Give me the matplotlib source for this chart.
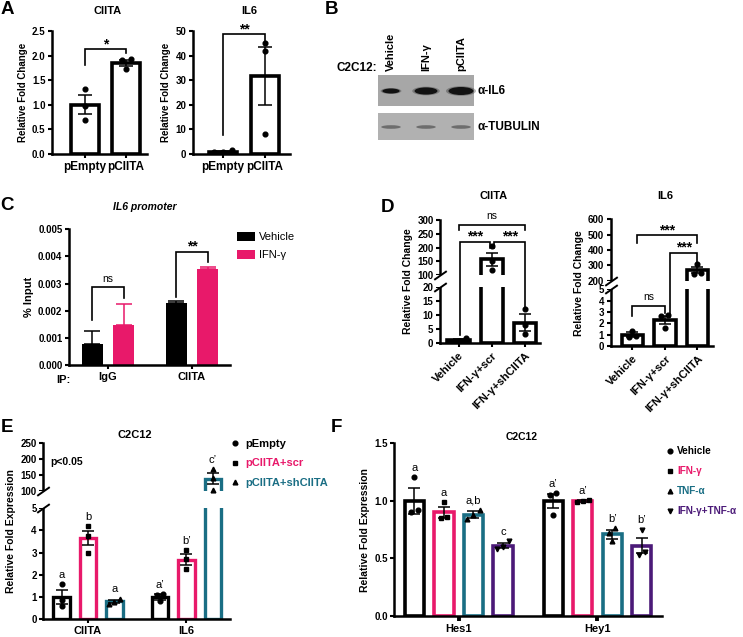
import numpy as np
import matplotlib
matplotlib.use("Agg")
import matplotlib.pyplot as plt
from matplotlib.patches import Rectangle, Ellipse, Patch
from matplotlib.lines import Line2D
from matplotlib.ticker import NullLocator

plt.rcParams.update({
    'font.family': ['Liberation Sans', 'DejaVu Sans'],
    'font.weight': 'bold',
    'axes.linewidth': 1.8,
    'xtick.major.width': 1.5, 'ytick.major.width': 1.5,
    'xtick.major.size': 3.2, 'ytick.major.size': 3.2,
    'xtick.major.pad': 2, 'ytick.major.pad': 1.5,
    'xtick.labelsize': 7, 'ytick.labelsize': 7,
    'axes.labelweight': 'bold', 'axes.labelsize': 7.5,
})

PINK = '#e8196a'
TEAL = '#1a6e84'
PURPLE = '#4b1a78'

# ---------------- data ----------------
# Panel A
a_groups = ['pEmpty', 'pCIITA']
a_ciita_mean = [1.0, 1.85]
a_ciita_sem = [0.19, 0.07]
a_ciita_pts = [[1.33, 0.97, 0.70], [1.93, 1.92, 1.72]]
a_il6_mean = [1.0, 31.7]
a_il6_sem = [0.15, 11.9]
a_il6_pts = [[1.45, 0.85, 0.70], [45.0, 42.0, 8.0]]

# Panel B (western blot, relative band intensities)
b_lanes = ['Vehicle', 'IFN-γ', 'pCIITA']
b_il6_signal = [0.45, 0.85, 1.0]
b_tubulin_signal = [0.6, 0.6, 0.6]

# Panel C
c_groups = ['IgG', 'CIITA']
c_series = ['Vehicle', 'IFN-γ']
c_vehicle = [0.00077, 0.00230]
c_vehicle_err = [0.00047, 0.00005]
c_ifng = [0.00149, 0.00355]
c_ifng_err = [0.00076, 0.00006]

# Panel D
d_groups = ['Vehicle', 'IFN-γ+scr', 'IFN-γ+shCIITA']
d_ciita_mean = [1.0, 158.0, 7.3]
d_ciita_sem = [0.35, 24.0, 3.0]
d_ciita_pts = [[1.9, 0.7, 0.5], [205.0, 150.0, 119.0], [12.3, 6.5, 3.1]]
d_il6_mean = [1.0, 2.3, 268.0]
d_il6_sem = [0.2, 0.38, 20.0]
d_il6_pts = [[1.35, 0.85, 0.8], [2.72, 2.65, 1.62], [311.0, 250.0, 245.0]]

# Panel E
e_groups = ['CIITA', 'IL6']
e_series = ['pEmpty', 'pCIITA+scr', 'pCIITA+shCIITA']
e_mean = [[1.0, 1.0], [3.65, 2.68], [0.80, 137.0]]
e_sem = [[0.32, 0.12], [0.33, 0.25], [0.08, 17.0]]
e_pts = [[[1.58, 0.85, 0.57], [1.12, 1.10, 0.80]],
         [[4.2, 3.75, 3.0], [3.1, 2.72, 2.25]],
         [[0.92, 0.78, 0.70], [167.0, 141.0, 103.0]]]
e_letters = [['a', 'a’'], ['b', 'b’'], ['a', 'c’']]

# Panel F
f_groups = ['Hes1', 'Hey1']
f_series = ['Vehicle', 'IFN-γ', 'TNF-α', 'IFN-γ+TNF-α']
f_mean = [[1.0, 1.0], [0.90, 1.0], [0.88, 0.71], [0.61, 0.61]]
f_sem = [[0.11, 0.06], [0.045, 0.01], [0.03, 0.04], [0.02, 0.065]]
f_pts = [[[1.21, 0.92, 0.90], [1.07, 1.05, 0.88]],
         [[0.99, 0.86, 0.85], [1.01, 1.00, 0.99]],
         [[0.92, 0.88, 0.84], [0.76, 0.72, 0.65]],
         [[0.65, 0.60, 0.58], [0.75, 0.56, 0.53]]]
f_letters = [['a', 'a’'], ['a', 'a’'], ['a,b', 'b’'], ['c', 'b’']]

# ---------------- helpers ----------------
W, H = 743, 637
fig = plt.figure(figsize=(W / 100, H / 100), dpi=100)


def rect(x0, y0, x1, y1):
    return [x0 / W, 1 - y1 / H, (x1 - x0) / W, (y1 - y0) / H]


def clean(ax, xfs):
    ax.spines['top'].set_visible(False)
    ax.spines['right'].set_visible(False)
    for lab in ax.get_yticklabels():
        lab.set_fontweight('bold')
    for lab in ax.get_xticklabels():
        lab.set_fontweight('bold')
        lab.set_fontsize(xfs)


def ident(y):
    return np.asarray(y, float)


def make_break(lo, hi, gap, k):
    def fwd(y):
        y = np.asarray(y, float)
        return np.where(y <= lo, y, np.where(y < hi, lo + (y - lo) / (hi - lo) * gap,
                                             lo + gap + (y - hi) * k))

    def inv(u):
        u = np.asarray(u, float)
        return np.where(u <= lo, u, np.where(u < lo + gap, lo + (u - lo) / gap * (hi - lo),
                                             hi + (u - lo - gap) / k))
    return fwd, inv


def spread(vals, fwd, ymax, width, thr=0.035):
    vals = np.asarray(vals, float)
    u = np.asarray(fwd(vals)) / float(fwd(ymax))
    order = np.argsort(u)
    offs = np.zeros(len(vals))
    clusters, cur = [], [order[0]]
    for i in order[1:]:
        if u[i] - u[cur[-1]] < thr:
            cur.append(i)
        else:
            clusters.append(cur)
            cur = [i]
    clusters.append(cur)
    for c in clusters:
        n = len(c)
        if n > 1:
            for kk, i in enumerate(c):
                offs[i] = (kk - (n - 1) / 2) * width * 0.32
    return offs


def draw_bars(ax, xs, means, sems, pts, edge, marker, width, lw, fwd, ymax, capsize):
    ax.bar(xs, means, width, facecolor='white', edgecolor=edge, linewidth=lw, zorder=2)
    ax.errorbar(xs, means, yerr=sems, fmt='none', ecolor='k', elinewidth=1.1,
                capsize=capsize, capthick=1.1, zorder=3)
    for x, p in zip(xs, pts):
        offs = spread(p, fwd, ymax, width)
        ax.plot(x + offs, p, ls='none', marker=marker, color='k', ms=3.4, zorder=4)


def bracket(ax, x1, x2, y, yl, yr, text, star=True):
    ax.plot([x1, x1, x2, x2], [yl, y, y, yr], color='k', lw=1.2, zorder=6,
            solid_joinstyle='miter', clip_on=False)
    if star:
        ax.annotate(text, ((x1 + x2) / 2, y), xytext=(0, -1.5), textcoords='offset points',
                    ha='center', va='bottom', fontsize=10, fontweight='bold', zorder=6)
    else:
        ax.annotate(text, ((x1 + x2) / 2, y), xytext=(0, 2.5), textcoords='offset points',
                    ha='center', va='bottom', fontsize=7.5, fontweight='normal', zorder=6)


def gap_cover(ax, lo, hi):
    ax.axhspan(lo, hi, xmin=-0.04, xmax=1.0, facecolor='white', edgecolor='none',
               zorder=2.6, clip_on=False)
    ax.plot([0, 0], [lo, hi], transform=ax.get_yaxis_transform(), ls='none',
            marker=[(-1, -0.7), (1, 0.7)], ms=9, mew=1.4, color='k', clip_on=False, zorder=5)


# ---------------- Panel A ----------------
for pos, means, sems, pts, title, ymax, yt, tx, xl, br in [
    ((52, 31, 147, 154), a_ciita_mean, a_ciita_sem, a_ciita_pts, 'CIITA', 2.5,
     [0, 0.5, 1.0, 1.5, 2.0, 2.5], 0.58, (-0.8, 1.51), (2.13, 1.81, 2.05, '*')),
    ((193, 31, 290, 154), a_il6_mean, a_il6_sem, a_il6_pts, 'IL6', 50,
     [0, 10, 20, 30, 40, 50], 0.58, (-0.72, 1.6), (48.7, 7.7, 45.6, '**'))]:
    ax = fig.add_axes(rect(*pos))
    xs = np.arange(len(a_groups))
    draw_bars(ax, xs, means, sems, pts, 'k', 'o', 0.68, 2.6, ident, ymax, 5)
    ax.set_xlim(*xl)
    ax.set_ylim(0, ymax)
    ax.set_yticks(yt)
    if title == 'CIITA':
        ax.set_yticklabels([f'{v:.1f}' for v in yt])
    ax.set_xticks(xs)
    ax.set_xticklabels(a_groups)
    ax.set_ylabel('Relative Fold Change', fontsize=7, labelpad=3)
    ax.text(tx, 1.16, title, transform=ax.transAxes, ha='center', va='center',
            fontsize=8, fontweight='bold')
    bracket(ax, 0, 1, br[0], br[1], br[2], br[3])
    clean(ax, 8.5)

# ---------------- Panel B (blot) ----------------
axb = fig.add_axes([0, 0, 1, 1], zorder=-1)
axb.set_xlim(0, W)
axb.set_ylim(H, 0)
axb.axis('off')
axb.add_patch(Rectangle((378, 74.5), 96, 31, facecolor='#a7a7a7', edgecolor='none'))
axb.add_patch(Rectangle((378, 112.5), 96, 27.5, facecolor='#b1b1b1', edgecolor='none'))
lane_x = [391 + 35 * i for i in range(len(b_lanes))]
for x, s in zip(lane_x, b_il6_signal):
    for f, a in [(1.2, 0.3), (1.0, 1.0)]:
        axb.add_patch(Ellipse((x, 91), (11 + 14 * s) * f, (2.5 + 5.5 * s) * f,
                              facecolor='#121212', edgecolor='none', alpha=a))
for x, s in zip(lane_x, b_tubulin_signal):
    axb.add_patch(Ellipse((x, 127), 10 + 16 * s, 1.8 + 3 * s, facecolor='#666666',
                          edgecolor='none', alpha=0.9))
for x, lab in zip(lane_x, b_lanes):
    fig.text(x / W, 1 - 71 / H, lab, rotation=90, ha='center', va='bottom',
             fontsize=8, fontweight='bold')
fig.text(377 / W, 1 - 68 / H, 'C2C12:', ha='right', va='center', fontsize=8.5, fontweight='bold')
fig.text(477 / W, 1 - 91 / H, 'α-IL6', ha='left', va='center', fontsize=8.5, fontweight='bold')
fig.text(477 / W, 1 - 127 / H, 'α-TUBULIN', ha='left', va='center', fontsize=8.5, fontweight='bold')

# ---------------- Panel C ----------------
axc = fig.add_axes(rect(69, 229.3, 230, 365))
gx = np.arange(len(c_groups))
off = 0.185
w = 0.25
axc.bar(gx - off, c_vehicle, w, color='k', zorder=2, label=c_series[0])
axc.bar(gx + off, c_ifng, w, color=PINK, zorder=2, label=c_series[1])
axc.errorbar(gx - off, c_vehicle, yerr=[np.zeros(2), c_vehicle_err], fmt='none', ecolor='k',
             elinewidth=1.1, capsize=5.5, capthick=1.1, zorder=3)
axc.errorbar(gx + off, c_ifng, yerr=[np.zeros(2), c_ifng_err], fmt='none', ecolor=PINK,
             elinewidth=1.1, capsize=5.5, capthick=1.1, zorder=3)
axc.set_xlim(-0.464, 1.452)
axc.set_ylim(0, 0.005)
axc.set_yticks([0, 0.001, 0.002, 0.003, 0.004, 0.005])
axc.set_yticklabels(['0.000', '0.001', '0.002', '0.003', '0.004', '0.005'])
axc.set_xticks(gx)
axc.set_xticklabels(c_groups)
axc.set_ylabel('% Input', fontsize=8, labelpad=3)
axc.text(0.472, 1.166, 'IL6 promoter', transform=axc.transAxes, ha='center', va='center',
         fontsize=7.5, fontweight='bold', style='italic')
bracket(axc, 0 - off, 0 + off, 0.00286, 0.00166, 0.00246, 'ns', star=False)
bracket(axc, 1 - off, 1 + off, 0.00418, 0.00252, 0.00380, '**')
fig.text(63 / W, 1 - 380 / H, 'IP:', ha='center', va='center', fontsize=8, fontweight='bold')
axc.legend(handles=[Patch(facecolor='k'), Patch(facecolor=PINK)], labels=c_series,
           loc='upper left', bbox_to_anchor=(237 / W, 1 - 232 / H), bbox_transform=fig.transFigure,
           frameon=False, borderpad=0, borderaxespad=0, handlelength=1.65, handleheight=0.9,
           handletextpad=0.3, labelspacing=0.65, prop={'size': 8, 'weight': 'normal'})
clean(axc, 8)

# ---------------- Panel D ----------------
d_specs = [
    ((440, 220, 540, 343), d_ciita_mean, d_ciita_sem, d_ciita_pts, 'CIITA',
     make_break(20, 100, 4.44, 0.0993), (20, 100), 300,
     [0, 5, 10, 15, 20, 100, 150, 200, 250, 300], (-0.56, 2.45), 0.533, 1.195),
    ((610.7, 219.3, 713, 346), d_il6_mean, d_il6_sem, d_il6_pts, 'IL6',
     make_break(5, 200, 0.76, 0.01353), (5, 200), 600,
     [0, 1, 2, 3, 4, 5, 200, 300, 400, 500, 600], (-0.67, 2.48), 0.537, 1.184),
]
d_axes = []
for pos, means, sems, pts, title, (fwd, inv), (lo, hi), ymax, yt, xl, tx, ty in d_specs:
    ax = fig.add_axes(rect(*pos))
    ax.set_yscale('function', functions=(fwd, inv))
    ax.set_ylim(0, ymax)
    xs = np.arange(len(d_groups))
    draw_bars(ax, xs, means, sems, pts, 'k', 'o', 0.67, 2.6, fwd, ymax, 4.5)
    ax.set_xlim(*xl)
    ax.set_yticks(yt)
    ax.set_yticklabels([str(v) for v in yt])
    ax.yaxis.set_minor_locator(NullLocator())
    ax.set_xticks(xs)
    ax.set_xticklabels(d_groups, rotation=45, ha='right', rotation_mode='anchor')
    ax.set_ylabel('Relative Fold Change', fontsize=7.5, labelpad=3)
    ax.text(tx, ty, title, transform=ax.transAxes, ha='center', va='center',
            fontsize=8, fontweight='bold')
    gap_cover(ax, lo, hi)
    clean(ax, 8)
    d_axes.append(ax)

axd1, axd2 = d_axes
bracket(axd1, 0, 2, 282, 262, 262, 'ns', star=False)
bracket(axd1, 0.05, 0.93, 221, 2.8, 200, '***')
bracket(axd1, 1.07, 2, 221, 200, 13, '***')
bracket(axd2, 0.15, 2, 498, 444, 444, '***')
bracket(axd2, 1.17, 2, 382, 2.6, 324, '***')
bracket(axd2, 0, 1.0, 3.53, 2.65, 2.94, 'ns', star=False)

# ---------------- Panel E ----------------
axe = fig.add_axes(rect(43.3, 442.7, 230, 619))
efwd, einv = make_break(5, 100, 0.795, 0.01445)
axe.set_yscale('function', functions=(efwd, einv))
axe.set_ylim(0, 250)
e_colors = ['k', PINK, TEAL]
e_markers = ['o', 's', '^']
eg = np.arange(len(e_groups))
eoff = 0.269
for i in range(len(e_series)):
    xs = eg + (i - 1) * eoff
    draw_bars(axe, xs, e_mean[i], e_sem[i], e_pts[i], e_colors[i], e_markers[i], 0.17, 2.4,
              efwd, 250, 4)
    for x, m, s, p, lt in zip(xs, e_mean[i], e_sem[i], e_pts[i], e_letters[i]):
        top = max(m + s, max(p))
        axe.annotate(lt, (x, top), xytext=(0, 3), textcoords='offset points', ha='center',
                     va='bottom', fontsize=8, fontweight='normal')
axe.set_xlim(-0.454, 1.442)
yt = [0, 1, 2, 3, 4, 5, 100, 150, 200, 250]
axe.set_yticks(yt)
axe.set_yticklabels([str(v) for v in yt])
axe.yaxis.set_minor_locator(NullLocator())
axe.set_xticks(eg)
axe.set_xticklabels(e_groups)
axe.set_ylabel('Relative Fold Expression', fontsize=7.5, labelpad=3)
axe.text(0.491, 1.044, 'C2C12', transform=axe.transAxes, ha='center', va='center',
         fontsize=8, fontweight='bold')
axe.text(0.036, 0.892, 'p<0.05', transform=axe.transAxes, ha='left', va='center',
         fontsize=7.5, fontweight='bold')
gap_cover(axe, 5, 100)
clean(axe, 8)
leg = axe.legend(handles=[Line2D([], [], ls='none', marker=m, color='k', ms=3.4) for m in e_markers],
                 labels=e_series, loc='upper left', bbox_to_anchor=(231 / W, 1 - 439 / H),
                 bbox_transform=fig.transFigure, frameon=False, borderpad=0, borderaxespad=0,
                 handlelength=0.8, handletextpad=0.5, labelspacing=0.85,
                 prop={'size': 8, 'weight': 'bold'})
for t, c in zip(leg.get_texts(), e_colors):
    t.set_color(c)

# ---------------- Panel F ----------------
axf = fig.add_axes(rect(394.3, 443.3, 661.7, 616))
f_colors = ['k', PINK, TEAL, PURPLE]
f_markers = ['o', 's', '^', 'v']
fg = np.arange(len(f_groups))
foff = 0.2126
for i in range(len(f_series)):
    xs = fg + (i - 1.5) * foff
    draw_bars(axf, xs, f_mean[i], f_sem[i], f_pts[i], f_colors[i], f_markers[i], 0.14, 2.6,
              ident, 1.5, 4)
    for x, m, s, p, lt in zip(xs, f_mean[i], f_sem[i], f_pts[i], f_letters[i]):
        top = max(m + s, max(p))
        axf.annotate(lt, (x, top), xytext=(0, 3), textcoords='offset points', ha='center',
                     va='bottom', fontsize=8, fontweight='normal')
axf.set_xlim(-0.4645, 1.463)
axf.set_ylim(0, 1.5)
axf.set_yticks([0, 0.5, 1.0, 1.5])
axf.set_yticklabels(['0.0', '0.5', '1.0', '1.5'])
axf.set_xticks(fg)
axf.set_xticklabels(f_groups)
axf.tick_params(axis='x', width=2.8, length=3.5)
axf.set_ylabel('Relative Fold Expression', fontsize=7.5, labelpad=3)
axf.text(0.476, 1.035, 'C2C12', transform=axf.transAxes, ha='center', va='center',
         fontsize=7.5, fontweight='bold')
clean(axf, 8)
legf = axf.legend(handles=[Line2D([], [], ls='none', marker=m, color='k', ms=3.4) for m in f_markers],
                  labels=f_series, loc='upper left', bbox_to_anchor=(667 / W, 1 - 446 / H),
                  bbox_transform=fig.transFigure, frameon=False, borderpad=0, borderaxespad=0,
                  handlelength=0.6, handletextpad=0.4, labelspacing=1.0,
                  prop={'size': 7.2, 'weight': 'bold'})
for t, c in zip(legf.get_texts(), f_colors):
    t.set_color(c)

# ---------------- panel letters ----------------
for lt, x, y in [('A', 7, 10), ('B', 331, 10), ('C', 7, 205), ('D', 388, 207),
                 ('E', 7, 427), ('F', 336, 427)]:
    fig.text(x / W, 1 - y / H, lt, ha='center', va='center', fontsize=13.5, fontweight='bold')

fig.savefig('out.png', dpi=100)
